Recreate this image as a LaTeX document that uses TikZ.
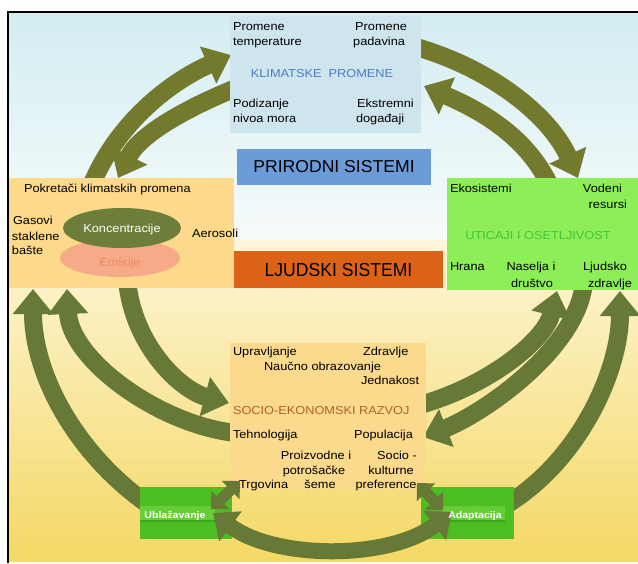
\documentclass[tikz,border=0pt]{standalone}
\usepackage{fontspec}
\setmainfont{Liberation Sans}[FakeStretch=1.1]
\usepackage{graphicx}
\usetikzlibrary{arrows.meta,shapes.geometric}
\definecolor{bgtop}{HTML}{D3EDF2}
\definecolor{bgmid}{HTML}{F7FBFB}
\definecolor{bgyelA}{HTML}{FDF6D8}
\definecolor{bgyelB}{HTML}{F9E8A2}
\definecolor{bgyelC}{HTML}{F5D865}
\definecolor{klimfill}{HTML}{CFE5EE}
\definecolor{klimtxt}{HTML}{4A7CC4}
\definecolor{prirfill}{HTML}{6B9CD8}
\definecolor{pokfill}{HTML}{FDD98B}
\definecolor{ljudfill}{HTML}{DC6218}
\definecolor{utifill}{HTML}{8EEE58}
\definecolor{utitxt}{HTML}{45C43A}
\definecolor{socfill}{HTML}{FBD98D}
\definecolor{soctxt}{HTML}{B0632A}
\definecolor{greenbox}{HTML}{4CBE22}
\definecolor{greenband}{HTML}{66CD36}
\definecolor{greenline}{HTML}{3AA81A}
\definecolor{arrtop}{HTML}{737A2D}
\definecolor{arrbot}{HTML}{677936}
\definecolor{koncfill}{HTML}{6D7E3B}
\definecolor{emisfill}{HTML}{F5AA88}
\definecolor{emistxt}{HTML}{EE8A66}
\begin{document}
\begin{tikzpicture}[x=1pt,y=-1pt,
  box/.style={inner sep=0pt, outer sep=0pt},
  txt/.style={inner sep=0pt, outer sep=0pt, font=\fontsize{11.6}{14}\selectfont},
  bigtxt/.style={font=\fontsize{16}{18}\selectfont},
  grlabel/.style={inner sep=0pt, outer sep=0pt, text=white, font=\fontsize{9.6}{11}\selectfont\bfseries},
  bigarr/.style={line width=18pt, -{Triangle[width=39pt,length=25pt]}},
  dblarr/.style={line width=16pt, {Triangle[width=36pt,length=22pt]}-{Triangle[width=36pt,length=22pt]}},
  smallarr/.style={line width=11pt, {Triangle[width=25pt,length=13pt]}-{Triangle[width=25pt,length=13pt]}},
]
\useasboundingbox (0,0) rectangle (638,563);
\fill[white] (0,0) rectangle (638,563);
\shade[top color=bgtop, bottom color=bgmid] (8,12) rectangle (638,240);
\shade[top color=bgyelA, middle color=bgyelB, bottom color=bgyelC] (8,240) rectangle (638,561);
\draw[line width=1.8pt] (8,563) -- (8,12) -- (638,12);

% arrow end points
\coordinate (a1s) at (91,186);
\coordinate (a1e) at (231,55);
\coordinate (a2s) at (236,88);
\coordinate (a2e) at (118,178);
\coordinate (a3s) at (416,47);
\coordinate (a3e) at (578,178);
\coordinate (a4s) at (550,186);
\coordinate (a4e) at (424,86);
\coordinate (a5s) at (146,503);
\coordinate (a5e) at (33,289);
\coordinate (a6s) at (236,433);
\coordinate (a6e) at (67,289);
\coordinate (a7s) at (127,280);
\coordinate (a7e) at (229,403);
\coordinate (a8s) at (420,405);
\coordinate (a8e) at (557,291);
\coordinate (a9s) at (584,282);
\coordinate (a9e) at (423,437);
\coordinate (a10s) at (506,505);
\coordinate (a10e) at (620,291);
\coordinate (a11s) at (213,513);
\coordinate (a11e) at (452,512);
\coordinate (a12s) at (211,509);
\coordinate (a12e) at (240,481);
\coordinate (a13s) at (417,483);
\coordinate (a13e) at (443,510);

% big arrows (behind boxes)
\draw[bigarr, arrtop] (a1s) .. controls (118,121) and (172,81) .. (a1e);
\draw[bigarr, arrtop] (a2s) .. controls (187,108) and (140,134) .. (a2e);
\draw[bigarr, arrtop] (a3s) .. controls (489,68) and (549,114) .. (a3e);
\draw[bigarr, arrtop] (a4s) .. controls (525,132) and (472,107) .. (a4e);
\draw[bigarr, arrbot] (a5s) .. controls (75,452) and (33,374) .. (a5e);
\draw[bigarr, arrbot] (a6s) .. controls (160,425) and (70,360) .. (a6e);
\draw[bigarr, arrbot] (a7s) .. controls (133,345) and (180,390) .. (a7e);
\draw[bigarr, arrbot] (a8s) .. controls (490,385) and (545,340) .. (a8e);
\draw[bigarr, arrbot] (a9s) .. controls (578,350) and (480,415) .. (a9e);
\draw[bigarr, arrbot] (a10s) .. controls (580,460) and (620,370) .. (a10e);

% boxes
\node[box, fill=klimfill, minimum width=191pt, minimum height=117pt, anchor=north west] (klim) at (230,16) {};
\node[box, fill=prirfill, minimum width=194pt, minimum height=36pt, anchor=north west, bigtxt] (prir) at (237,149) {\scalebox{1}[1.08]{PRIRODNI SISTEMI}};
\node[box, fill=pokfill, minimum width=225pt, minimum height=110pt, anchor=north west] (pok) at (9,178) {};
\node[box, fill=ljudfill, minimum width=209pt, minimum height=37pt, anchor=north west, bigtxt] (ljud) at (234,251) {\scalebox{1}[1.18]{LJUDSKI SISTEMI}};
\node[box, fill=utifill, minimum width=191pt, minimum height=112pt, anchor=north west] (uti) at (447,178) {};
\node[box, fill=socfill, minimum width=196pt, minimum height=147pt, anchor=north west] (soc) at (230,343) {};
\node[box, fill=greenbox, minimum width=92pt, minimum height=52pt, anchor=north west] (ubl) at (140,487) {};
\node[box, fill=greenband, minimum width=75pt, minimum height=15pt, anchor=north west] (ublband) at (140,506) {};
\draw[greenline, line width=1.2pt] (ublband.south west) -- (ublband.south east);
\node[box, fill=greenbox, minimum width=93pt, minimum height=52pt, anchor=north west] (ada) at (421,487) {};
\node[box, fill=greenband, minimum width=63pt, minimum height=15pt, anchor=north west] (adaband) at (442,506) {};
\draw[greenline, line width=1.2pt] (adaband.south west) -- (adaband.south east);

% ellipses
\node[ellipse, box, fill=emisfill, minimum width=120pt, minimum height=38pt] (emis) at (120,258) {};
\node[ellipse, box, fill=koncfill, minimum width=118pt, minimum height=40pt] (konc) at (122,228) {};

% bottom arrows (over boxes)
\draw[dblarr, arrbot] (a11s) .. controls (275,560) and (390,560) .. (a11e);
\draw[smallarr, arrbot] (a12s) -- (a12e);
\draw[smallarr, arrbot] (a13s) -- (a13e);

% texts: climate changes
\node[txt, anchor=base west] (t1) at (233,30) {Promene};
\node[txt, anchor=base west] (t2) at (233,45) {temperature};
\node[txt, anchor=base east] (t3) at (407,30) {Promene};
\node[txt, anchor=base east] (t4) at (405,45) {padavina};
\node[txt, anchor=base, text=klimtxt] (t5) at (322,77) {KLIMATSKE\ \ PROMENE};
\node[txt, anchor=base west] (t6) at (233,107) {Podizanje};
\node[txt, anchor=base west] (t7) at (233,122) {nivoa mora};
\node[txt, anchor=base west] (t8) at (357,107) {Ekstremni};
\node[txt, anchor=base west] (t9) at (356,122) {događaji};
% drivers
\node[txt, anchor=base west] (p1) at (24,192) {Pokretači klimatskih promena};
\node[txt, anchor=base west] (p2) at (13,224) {Gasovi};
\node[txt, anchor=base west] (p3) at (12,240) {staklene};
\node[txt, anchor=base west] (p4) at (12,254) {bašte};
\node[txt, anchor=base west] (p5) at (192,237) {Aerosoli};
\node[txt, anchor=base, text=white] (p6) at (122,232) {Koncentracije};
\node[txt, anchor=base, text=emistxt] (p7) at (120,266) {Emisije};
% impacts
\node[txt, anchor=base west] (u1) at (450,192) {Ekosistemi};
\node[txt, anchor=base east] (u2) at (622,192) {Vodeni};
\node[txt, anchor=base east] (u3) at (627,208) {resursi};
\node[txt, anchor=base, text=utitxt] (u4) at (538,239) {UTICAJI I OSETLJIVOST};
\node[txt, anchor=base west] (u5) at (450,270) {Hrana};
\node[txt, anchor=base] (u6) at (531,270) {Naselja i};
\node[txt, anchor=base] (u7) at (532,287) {društvo};
\node[txt, anchor=base west] (u8) at (583,270) {Ljudsko};
\node[txt, anchor=base west] (u9) at (588,287) {zdravlje};
% socio-economic
\node[txt, anchor=base west] (s1) at (233,355) {Upravljanje};
\node[txt, anchor=base west] (s2) at (363,355) {Zdravlje};
\node[txt, anchor=base west] (s3) at (264,370) {Naučno obrazovanje};
\node[txt, anchor=base west] (s4) at (361,384) {Jednakost};
\node[txt, anchor=base west, text=soctxt] (s5) at (233,414) {SOCIO-EKONOMSKI RAZVOJ};
\node[txt, anchor=base west] (s6) at (233,438) {Tehnologija};
\node[txt, anchor=base west] (s7) at (354,438) {Populacija};
\node[txt, anchor=base] (s8) at (316,459) {Proizvodne i};
\node[txt, anchor=base] (s9) at (314,474) {potrošačke};
\node[txt, anchor=base] (s10) at (320,488) {šeme};
\node[txt, anchor=base] (s11) at (397,459) {Socio -};
\node[txt, anchor=base] (s12) at (391,474) {kulturne};
\node[txt, anchor=base] (s13) at (386,488) {preference};
\node[txt, anchor=base west] (s14) at (239,488) {Trgovina};
% responses
\node[grlabel, anchor=base] (g1) at (175,518) {Ublažavanje};
\node[grlabel, anchor=base] (g2) at (475,518) {Adaptacija};
\end{tikzpicture}
\end{document}
